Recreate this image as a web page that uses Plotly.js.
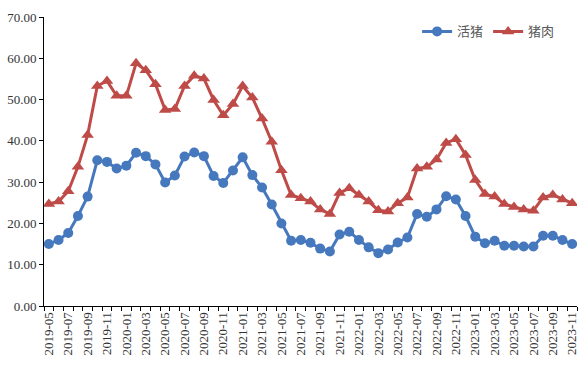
<!DOCTYPE html>
<html>
<head>
<meta charset="utf-8">
<script src="https://cdn.plot.ly/plotly-3.0.1.min.js"></script>
<style>html,body{margin:0;padding:0;background:#fff;}#chart{width:584px;height:368px;}</style>
</head>
<body>
<div id="chart"></div>
<script>
const months = ["2019-05","2019-06","2019-07","2019-08","2019-09","2019-10","2019-11","2019-12",
"2020-01","2020-02","2020-03","2020-04","2020-05","2020-06","2020-07","2020-08","2020-09","2020-10","2020-11","2020-12",
"2021-01","2021-02","2021-03","2021-04","2021-05","2021-06","2021-07","2021-08","2021-09","2021-10","2021-11","2021-12",
"2022-01","2022-02","2022-03","2022-04","2022-05","2022-06","2022-07","2022-08","2022-09","2022-10","2022-11","2022-12",
"2023-01","2023-02","2023-03","2023-04","2023-05","2023-06","2023-07","2023-08","2023-09","2023-10","2023-11"];
const livePig = [15.0,16.0,17.7,21.8,26.5,35.3,34.9,33.3,34.0,37.1,36.3,34.3,29.9,31.6,36.2,37.2,
36.3,31.5,29.8,32.8,36.0,31.7,28.7,24.6,20.0,15.8,16.0,15.3,13.9,13.2,17.3,18.0,
16.0,14.2,12.8,13.7,15.4,16.6,22.3,21.6,23.4,26.6,25.8,21.8,16.8,15.2,15.8,14.6,
14.6,14.4,14.4,17.0,17.0,16.0,15.0];
const pork = [24.7,25.3,27.8,33.7,41.4,53.3,54.5,50.9,50.9,58.8,57.1,53.7,47.5,47.7,53.3,55.8,
55.1,49.9,46.2,48.9,53.3,50.5,45.4,39.8,32.9,26.9,26.1,25.3,23.4,22.3,27.4,28.5,
26.9,25.3,23.2,22.9,24.9,26.3,33.3,33.7,35.5,39.5,40.4,36.6,30.5,27.1,26.5,24.7,
24.0,23.4,23.1,26.3,26.9,25.8,24.9];
const seriesNames = ["活猪","猪肉"];
const yTicks = [0,10,20,30,40,50,60,70];

const idx = months.map((m,i)=>i);
const labelIdx = idx.filter(i=>i%2===0);
const labelText = labelIdx.map(i=>months[i]);

const blue = "#4678BE", red = "#BE4B48";
const traces = [
  {x: idx, y: livePig, name: seriesNames[0], type:"scatter", mode:"lines+markers",
   line:{color:blue, width:3}, marker:{color:blue, size:10, symbol:"circle"}},
  {x: idx, y: pork, name: seriesNames[1], type:"scatter", mode:"lines+markers",
   line:{color:red, width:3}, marker:{color:red, size:11, symbol:"triangle-up"}}
];
const serif = "Liberation Serif, Times New Roman, serif";
const layout = {
  width:584, height:368,
  margin:{l:44, r:7, t:17, b:62},
  paper_bgcolor:"#fff", plot_bgcolor:"#fff",
  showlegend:true,
  legend:{orientation:"h", x:0.70, y:0.95, xanchor:"left", yanchor:"middle",
    font:{family:"Noto Sans CJK SC, sans-serif", size:13, color:"#595959"},
    bgcolor:"rgba(0,0,0,0)", itemwidth:30, tracegroupgap:0},
  xaxis:{type:"linear", range:[-0.5, 54.5], showgrid:false, zeroline:false,
    showline:true, linecolor:"#000", linewidth:1,
    tickmode:"array", tickvals:labelIdx, ticktext:labelText, tickangle:-90,
    ticks:"", tickfont:{family:serif, size:13, color:"#333"},
    minor:{tickmode:"linear", tick0:-0.5, dtick:1, ticks:"outside", ticklen:4, tickcolor:"#000", tickwidth:1, showgrid:false}},
  yaxis:{range:[0,70], showgrid:false, zeroline:false, showline:true, linecolor:"#000", linewidth:1,
    tickmode:"array", tickvals:yTicks, ticks:"outside", ticklen:4, tickcolor:"#000",
    tickformat:".2f", tickfont:{family:serif, size:13, color:"#333"}}
};
Plotly.newPlot("chart", traces, layout, {displayModeBar:false, staticPlot:true});
</script>
</body>
</html>
